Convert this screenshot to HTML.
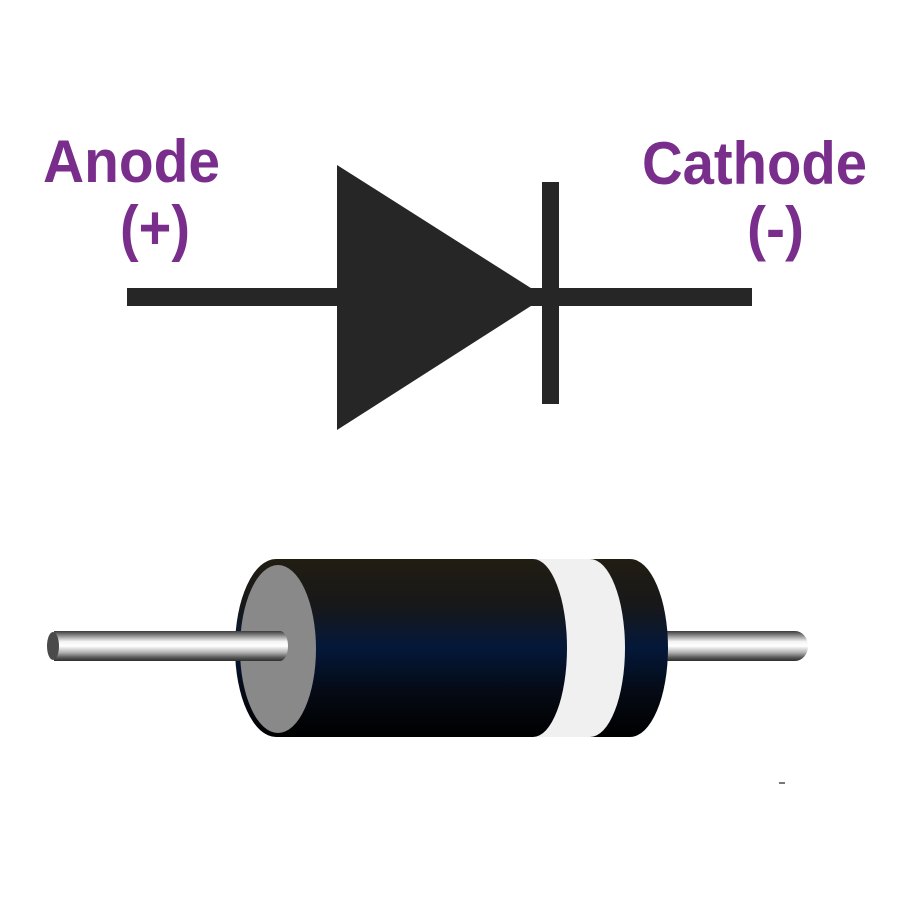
<!DOCTYPE html>
<html>
<head>
<meta charset="utf-8">
<style>
html,body{margin:0;padding:0;background:#fff;}
svg{display:block;}
text{font-family:"Liberation Sans",Arial,sans-serif;font-weight:bold;fill:#7a2e8c;}
</style>
</head>
<body>
<svg width="900" height="900" viewBox="0 0 900 900" xmlns="http://www.w3.org/2000/svg">
<defs>
<linearGradient id="body" x1="0" y1="0" x2="0" y2="1">
<stop offset="0" stop-color="#211d13"/>
<stop offset="0.25" stop-color="#181818"/>
<stop offset="0.5" stop-color="#04183a"/>
<stop offset="0.75" stop-color="#050a14"/>
<stop offset="1" stop-color="#000000"/>
</linearGradient>
<linearGradient id="lead" x1="0" y1="0" x2="0" y2="1">
<stop offset="0" stop-color="#3a3a3a"/>
<stop offset="0.15" stop-color="#8a8a8a"/>
<stop offset="0.35" stop-color="#f4f4f4"/>
<stop offset="0.5" stop-color="#ffffff"/>
<stop offset="0.72" stop-color="#b0b0b0"/>
<stop offset="0.88" stop-color="#5a5a5a"/>
<stop offset="1" stop-color="#2e2e2e"/>
</linearGradient>
</defs>

<!-- labels -->
<text x="43" y="182" font-size="60" textLength="177" lengthAdjust="spacingAndGlyphs">Anode</text>
<text x="120" y="249" font-size="62" textLength="70" lengthAdjust="spacingAndGlyphs">(+)</text>
<text x="642" y="184" font-size="60" textLength="225" lengthAdjust="spacingAndGlyphs">Cathode</text>
<text x="747" y="249" font-size="60" textLength="57" lengthAdjust="spacingAndGlyphs">(-)</text>

<!-- schematic symbol -->
<rect x="127" y="288" width="625" height="18" fill="#262626"/>
<polygon points="337,165 337,430 545,297" fill="#262626"/>
<rect x="542" y="182" width="17" height="222" fill="#262626"/>

<!-- physical diode: right lead -->
<path d="M650,631 L795,631 A13,15 0 0 1 795,661 L650,661 Z" fill="url(#lead)"/>

<!-- body -->
<path d="M276,559 L630,559 A38,89 0 0 1 630,737 L276,737 A41,89 0 0 1 276,559 Z" fill="url(#body)"/>
<!-- white band -->
<path d="M533,559 L590,559 A35,89 0 0 1 590,737 L533,737 A34,89 0 0 0 533,559 Z" fill="#f0f0f0"/>

<!-- grey end cap -->
<ellipse cx="278" cy="649" rx="38" ry="84" fill="#898989"/>

<!-- left lead -->
<path d="M54,631 L280,631 A8,15 0 0 1 280,661 L54,661 Z" fill="url(#lead)"/>
<ellipse cx="53" cy="646" rx="6" ry="14" fill="#4a4a4a"/>

<!-- tiny mark -->
<rect x="779" y="782" width="6" height="2" fill="#777"/>
</svg>
</body>
</html>
